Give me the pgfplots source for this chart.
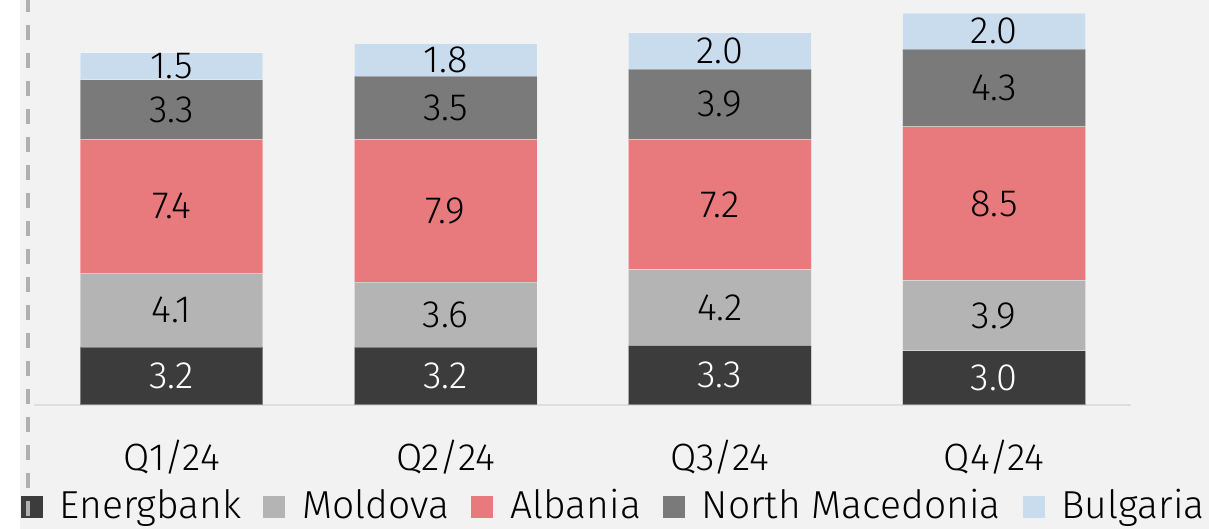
\documentclass[border=0pt]{standalone}
\usepackage{pgfplots}
\pgfplotsset{compat=1.18}
\usepackage{fontspec}
\setmainfont{Fira Sans}[UprightFont={* Light}]
\definecolor{bgc}{HTML}{F2F2F2}
\definecolor{c1}{HTML}{3C3C3C}
\definecolor{c2}{HTML}{B4B4B4}
\definecolor{c3}{HTML}{E8797D}
\definecolor{c4}{HTML}{7A7A7A}
\definecolor{c5}{HTML}{C9DCEE}
\definecolor{basec}{HTML}{DEDEDE}
\definecolor{dashc}{HTML}{B0B0B0}
\pgfplotstableread{
x v
0 3.2
1 3.2
2 3.3
3 3.0
}\energ
\pgfplotstableread{
x v
0 4.1
1 3.6
2 4.2
3 3.9
}\mold
\pgfplotstableread{
x v
0 7.4
1 7.9
2 7.2
3 8.5
}\alb
\pgfplotstableread{
x v
0 3.3
1 3.5
2 3.9
3 4.3
}\nmac
\pgfplotstableread{
x v
0 1.5
1 1.8
2 2.0
3 2.0
}\bulg
\begin{document}
\fontsize{19}{22}\selectfont
\begin{tikzpicture}
\fill[white] (0,0) rectangle (604.5pt,264.5pt);
\fill[bgc] (9.75pt,0) rectangle (604.5pt,264.5pt);
\begin{axis}[
  at={(17.2pt,62pt)}, anchor=south west,
  scale only axis, width=548.4pt, height=198.7pt,
  xmin=-0.5, xmax=3.5, ymin=0, ymax=22,
  ybar stacked, bar width=0.667,
  axis y line=none,
  axis x line*=bottom,
  x axis line style={basec, line width=1pt, -},
  xtick={0,1,2,3},
  xticklabels={Q1/24,Q2/24,Q3/24,Q4/24},
  major tick length=0pt,
  xticklabel style={anchor=center, yshift=-26pt},
  /pgf/number format/assume math mode=true,
  /pgf/number format/.cd, fixed, fixed zerofill, precision=1, /pgfplots/.cd,
  every axis plot/.append style={draw=white, draw opacity=0.35, line width=0.5pt},
  nodes near coords={\pgfmathprintnumber[fixed,fixed zerofill,precision=1]{\pgfplotspointmeta}},
  point meta=explicit,
  every node near coord/.append style={anchor=center, text=black, font=\fontsize{19}{22}\selectfont},
  legend columns=5,
  legend style={at={(axis description cs:0.529,-0.2567)}, anchor=center, draw=none, fill=none,
    font=\fontsize{19.5}{22}\selectfont, inner sep=0pt,
    /tikz/every even column/.append style={column sep=9pt},
    /tikz/every odd column/.append style={column sep=6.5pt}},
  legend image code/.code={\path[#1,draw=none] (0pt,-5.5pt) rectangle (11pt,5.5pt);},
]
\addplot[fill=c1, every node near coord/.append style={text=white}] table[x=x,y=v,meta=v] {\energ};
\addlegendentry{Energbank}
\addplot[fill=c2] table[x=x,y=v,meta=v] {\mold};
\addlegendentry{Moldova}
\addplot[fill=c3] table[x=x,y=v,meta=v] {\alb};
\addlegendentry{Albania}
\addplot[fill=c4] table[x=x,y=v,meta=v] {\nmac};
\addlegendentry{North Macedonia}
\addplot[fill=c5] table[x=x,y=v,meta=v] {\bulg};
\addlegendentry{Bulgaria}
\end{axis}
\draw[dashc, line width=2pt, dash pattern=on 7.5pt off 6.5pt, dash phase=1.5pt] (13.75pt,264.5pt) -- (13.75pt,0pt);
\pgfresetboundingbox
\path[use as bounding box] (0,0) rectangle (604.5pt,264.5pt);
\end{tikzpicture}
\end{document}
